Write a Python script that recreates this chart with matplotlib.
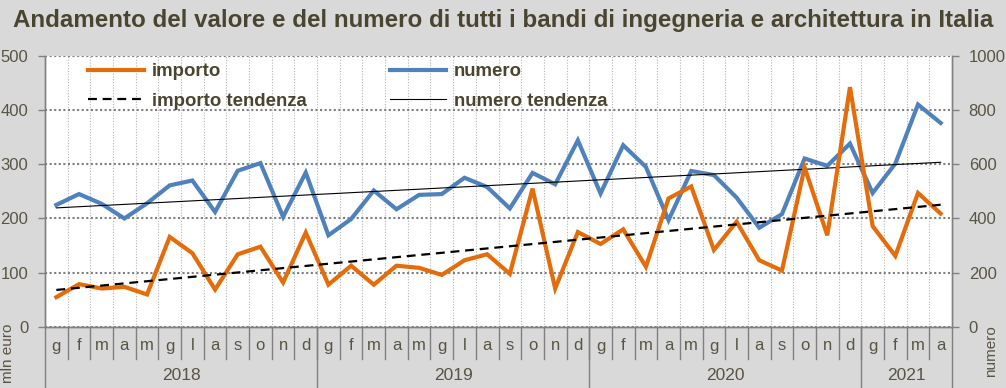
import matplotlib
matplotlib.use('Agg')
import matplotlib.pyplot as plt
import numpy as np
from matplotlib.lines import Line2D

# monthly values, jan 2018 - apr 2021
months = ['g', 'f', 'm', 'a', 'm', 'g', 'l', 'a', 's', 'o', 'n', 'd'] * 3 + ['g', 'f', 'm', 'a']
years = ['2018', '2019', '2020', '2021']
year_counts = [12, 12, 12, 4]

# importo in mln euro (left axis)
importo = [55, 79, 71, 74, 60, 166, 136, 69, 134, 148, 82, 174,
           78, 113, 78, 113, 109, 96, 123, 134, 98, 255, 71, 175,
           153, 180, 111, 237, 259, 142, 194, 123, 104, 294, 169, 442,
           186, 131, 247, 209]

# numero of bandi (right axis)
numero = [450, 490, 454, 400, 456, 522, 540, 424, 576, 604, 406, 569,
          338, 398, 503, 434, 487, 490, 550, 516, 437, 568, 526, 688,
          492, 670, 590, 394, 575, 560, 477, 366, 416, 621, 594, 676,
          494, 602, 820, 752]

bg = '#d9d9d9'
text_col = '#4a4530'
tick_col = '#595444'
orange = '#e46c0a'
blue = '#4f81bd'

plt.rcParams['font.family'] = ['Liberation Sans', 'DejaVu Sans']

fig = plt.figure(figsize=(10.06, 3.88), dpi=100, facecolor=bg)
W, H = 1006, 388
x0, x1 = 45, 952
y_top, y_bot = 55.7, 327
ax = fig.add_axes([x0 / W, 1 - y_bot / H, (x1 - x0) / W, (y_bot - y_top) / H])
ax.set_facecolor('white')

n = len(importo)
x = np.arange(n)

# main axis = numero (ticks on the right), twin = importo (ticks on the left, drawn on top)
ax2 = ax.twinx()
ax.yaxis.tick_right()
ax2.yaxis.tick_left()

ax.set_xlim(-0.5, n - 0.5)
ax.set_ylim(0, 1000)
ax2.set_ylim(0, 500)
ax.set_yticks(np.arange(0, 1001, 200))
ax2.set_yticks(np.arange(0, 501, 100))

# gridlines
ax.grid(axis='y', color='#7f7f7f', linestyle=(0, (1, 1.2)), linewidth=1.5)
ax.set_xticks(np.arange(0.5, n - 1, 1), minor=True)
ax.set_xticks([])
ax.grid(axis='x', which='minor', color='#b4b4b4', linestyle=(0, (1, 1.5)), linewidth=0.8)
ax.tick_params(axis='x', which='both', length=0)
ax.set_axisbelow(True)

# trend lines (linear fit like excel)
a1, b1 = np.polyfit(x, numero, 1)
a2, b2 = np.polyfit(x, importo, 1)

l_num, = ax.plot(x, numero, color=blue, linewidth=3, solid_joinstyle='miter', zorder=3)
l_num_t, = ax.plot(x, a1 * x + b1, color='black', linewidth=0.8, zorder=4)
l_imp, = ax2.plot(x, importo, color=orange, linewidth=3, solid_joinstyle='miter', zorder=3)
l_imp_t, = ax2.plot(x, a2 * x + b2, color='black', linewidth=1.6, linestyle=(0, (4, 2.6)), zorder=4)

for a in (ax, ax2):
    a.spines['top'].set_visible(False)
    for s in ('left', 'right', 'bottom'):
        a.spines[s].set_color('#808080')
        a.spines[s].set_linewidth(1)
    a.tick_params(axis='y', length=5, width=1, color='#808080', labelsize=12, labelcolor=tick_col, pad=7)

# multi level category labels
trans = ax.get_xaxis_transform()
ax_h = y_bot - y_top
for i, m in enumerate(months):
    ax.text(i, -(346 - y_bot) / ax_h, m, transform=trans, ha='center', va='center',
            fontsize=12, color=tick_col)
for i in range(1, n):
    ax.add_line(Line2D([i - 0.5, i - 0.5], [0, -(359 - y_bot) / ax_h], transform=trans,
                       color='#808080', linewidth=1, clip_on=False))
start = 0
bounds = [-0.5]
for yr, c in zip(years, year_counts):
    ax.text(start + c / 2 - 0.5, -(375 - y_bot) / ax_h, yr, transform=trans, ha='center',
            va='center', fontsize=12.5, color=tick_col)
    start += c
    bounds.append(start - 0.5)
for b in bounds:
    ax.add_line(Line2D([b, b], [0, -(H - y_bot) / ax_h], transform=trans,
                       color='#808080', linewidth=1, clip_on=False))

# axis titles at the bottom corners
fig.text(8 / W, 1 - 353 / H, 'mln euro', rotation=90, ha='center', va='center',
         fontsize=11, color=tick_col)
fig.text(991 / W, 1 - 351 / H, 'numero', rotation=90, ha='center', va='center',
         fontsize=11, color=tick_col)

# title
fig.text(13 / W, 1 - 20 / H, 'Andamento del valore e del numero di tutti i bandi di ingegneria e architettura in Italia',
         ha='left', va='center', fontsize=17.4, fontweight='bold', color=text_col)

# legend, two columns
leg_kw = dict(loc='upper left', bbox_transform=fig.transFigure, frameon=False, borderpad=0,
              borderaxespad=0, handlelength=3, handletextpad=0.45, labelspacing=0.67,
              prop={'weight': 'bold', 'size': 13.4}, labelcolor=text_col)
leg1 = ax2.legend([l_imp, l_imp_t], ['importo', 'importo tendenza'],
                  bbox_to_anchor=(88 / W, 1 - 63 / H), **leg_kw)
ax2.add_artist(leg1)
ax2.legend([l_num, l_num_t], ['numero', 'numero tendenza'],
           bbox_to_anchor=(390 / W, 1 - 63 / H), **leg_kw)

plt.savefig('out.png', dpi=100, facecolor=bg)
